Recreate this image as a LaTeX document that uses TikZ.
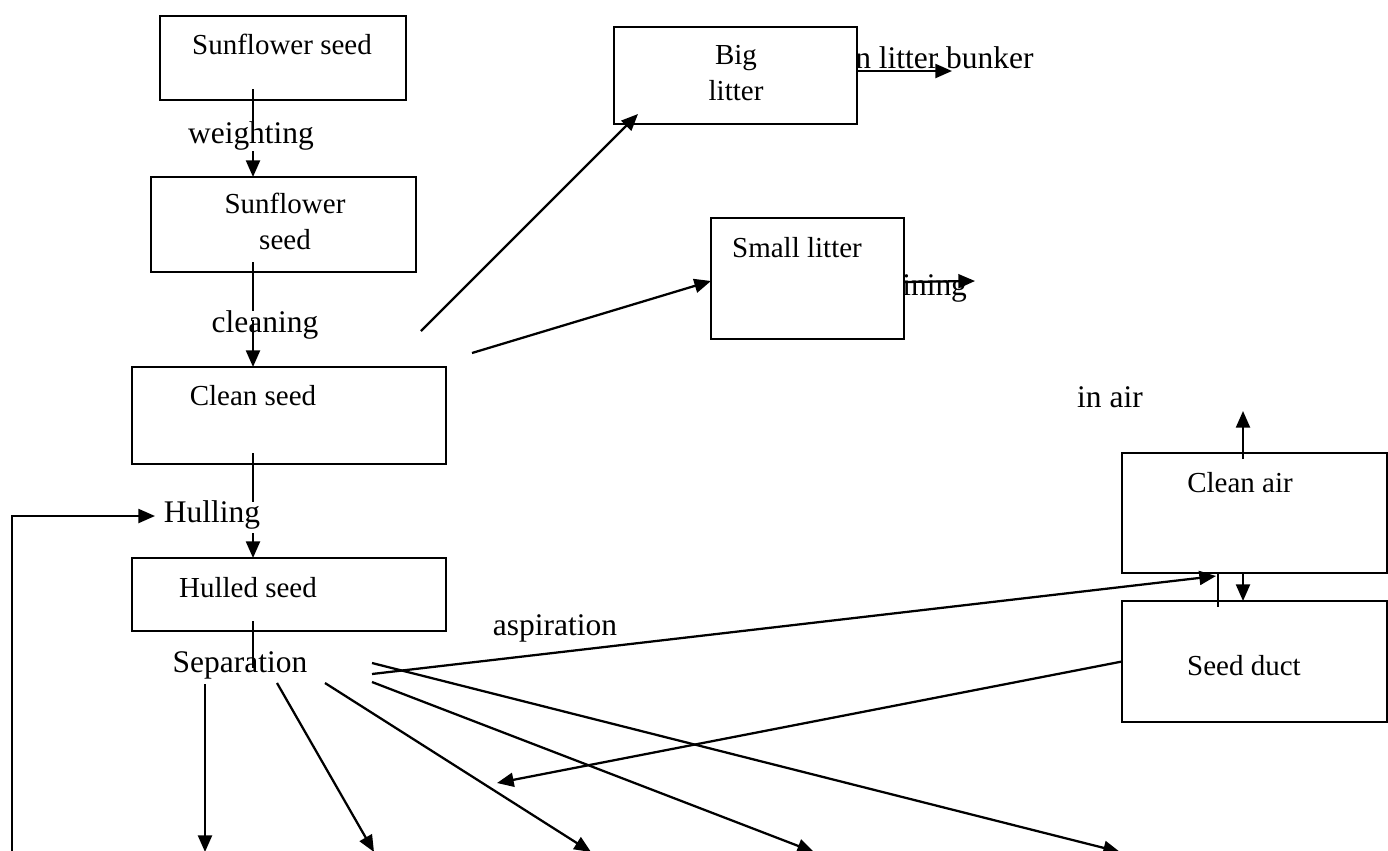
\documentclass[tikz,border=0pt]{standalone}
\usepackage{fontspec}
\setmainfont{Liberation Serif}
\usetikzlibrary{arrows.meta,fit}
\tikzset{
  box/.style={draw, line width=1.5pt, fill=white, inner sep=0pt, outer sep=0pt},
  btxt/.style={font=\fontsize{21.75}{27}\selectfont, inner sep=0pt, align=center},
  ltxt/.style={font=\fontsize{23.6}{28}\selectfont, inner sep=0pt},
  arr/.style={line width=1.7pt, -{Triangle[length=12.5pt,width=10.5pt]}},
  thinln/.style={line width=0.9pt},
}
\begin{document}
\begin{tikzpicture}[x=0.75pt,y=-0.75pt]
\useasboundingbox (0,0) rectangle (1388,850);
\clip (0,0) rectangle (1388,850);
\fill[white] (0,0) rectangle (1388,850);

% partly hidden labels (drawn below the boxes)
\node[ltxt, anchor=base west] (bunker) at (855,68) {n litter bunker};
\node[ltxt, anchor=base west] (mining) at (902,295) {ining};

% boxes
\node[box, fit={(160,16)(406,100)}] (b1) {};
\node[box, fit={(151,177)(416,272)}] (b2) {};
\node[box, fit={(132,367)(446,464)}] (b3) {};
\node[box, fit={(132,558)(446,631)}] (b4) {};
\node[box, fit={(614,27)(857,124)}] (bl) {};
\node[box, fit={(711,218)(904,339)}] (sl) {};
\node[box, fit={(1122,453)(1387,573)}] (ca) {};
\node[box, fit={(1122,601)(1387,722)}] (sd) {};

% box texts
\node[btxt, anchor=base] (t1) at (282,54) {Sunflower seed};
\node[btxt] (t2) at (285,221) {Sunflower\\seed};
\node[btxt, anchor=base] (t3) at (253,405) {Clean seed};
\node[btxt, anchor=base] (t4) at (248,597) {Hulled seed};
\node[btxt] (tbl) at (736,73) {Big\\litter};
\node[btxt, anchor=base] (tsl) at (797,257) {Small litter};
\node[btxt, anchor=base] (tca) at (1240,492) {Clean air};
\node[btxt, anchor=base] (tsd) at (1244,675) {Seed duct};

% labels
\node[ltxt, anchor=base] (weigh) at (251,143) {weighting};
\node[ltxt, anchor=base] (clean) at (265,332) {cleaning};
\node[ltxt, anchor=base] (hull) at (212,522) {Hulling};
\node[ltxt, anchor=base] (sep) at (240,672) {Separation};
\node[ltxt, anchor=base] (asp) at (555,635) {aspiration};
\node[ltxt, anchor=base] (inair) at (1110,407) {in air};

% main chain
\coordinate (a1) at (253,89);  \coordinate (a2) at (253,136); \coordinate (a3) at (253,151);
\draw[thinln] (a1) -- (a2);
\draw[arr] (a3) -- (a3 |- b2.north);
\coordinate (c1) at (253,262); \coordinate (c2) at (253,311); \coordinate (c3) at (253,320);
\draw[thinln] (c1) -- (c2);
\draw[arr] (c3) -- (c3 |- b3.north);
\coordinate (h1) at (253,453); \coordinate (h2) at (253,502); \coordinate (h3) at (253,533);
\draw[thinln] (h1) -- (h2);
\draw[arr] (h3) -- (h3 |- b4.north);
\coordinate (s1) at (253,621); \coordinate (s2) at (253,668);
\draw[thinln] (s1) -- (s2);

% feedback loop
\coordinate (fb0) at (12,860); \coordinate (fb1) at (155,516);
\draw[arr] (fb0) |- (fb1);

% litter branches
\coordinate (lb0) at (421,331); \coordinate (lb1) at (638,114);
\draw[arr] (lb0) -- (lb1);
\coordinate (ls0) at (472,353); \coordinate (ls1) at (711,281);
\draw[arr] (ls0) -- (ls1);
\coordinate (bo0) at (857,71); \coordinate (bo1) at (952,71);
\draw[arr] (bo0) -- (bo1);
\coordinate (so0) at (904,282); \coordinate (so1) at (975,281);
\draw[arr] (so0) -- (so1);

% separation outputs
\coordinate (p1) at (205,684);  \coordinate (q1) at (205,852);
\coordinate (p2) at (277,683);  \coordinate (q2) at (374,852);
\coordinate (p3) at (325,683);  \coordinate (q3) at (591,852);
\coordinate (p4) at (372,682);  \coordinate (q4) at (814,852);
\coordinate (p5) at (372,663);  \coordinate (q5) at (1120,852);
\draw[arr] (p1) -- (q1);
\draw[arr] (p2) -- (q2);
\draw[arr] (p3) -- (q3);
\draw[arr] (p4) -- (q4);
\draw[arr] (p5) -- (q5);

% aspiration
\coordinate (as0) at (372,674); \coordinate (as1) at (1216,576);
\draw[arr] (as0) -- (as1);
\coordinate (dr) at (497,783);
\draw[arr] (sd.west) -- (dr);

% air arrows
\coordinate (up0) at (1243,459); \coordinate (up1) at (1243,411);
\draw[arr] (up0) -- (up1);
\coordinate (dn0) at (1243,574);
\draw[arr] (dn0) -- (dn0 |- sd.north);
\coordinate (v0) at (1218,572); \coordinate (v1) at (1218,607);
\draw[thinln] (v0) -- (v1);
\end{tikzpicture}
\end{document}
